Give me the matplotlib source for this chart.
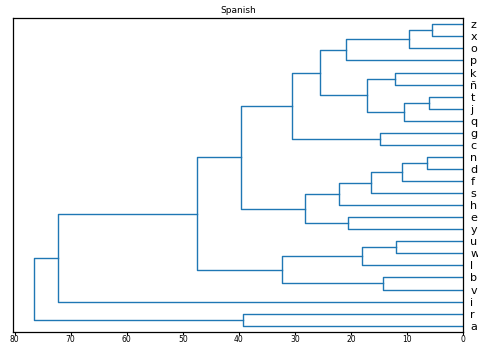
import matplotlib
matplotlib.use('Agg')
import matplotlib.pyplot as plt

# leaf labels in display order, bottom to top
labels = ['a', 'r', 'i', 'v', 'b', 'l', 'w', 'u', 'y', 'e', 'h', 's', 'f',
          'd', 'n', 'c', 'g', 'q', 'j', 't', 'ñ', 'k', 'p', 'o', 'x', 'z']

# merges: ids < 26 are leaves, ids >= 26 are earlier merges (26 + row)
left_child = [24, 26, 27, 21, 19, 30, 29, 28, 16, 33, 14, 36, 37, 38,
              9, 39, 35, 7, 43, 4, 44, 42, 47, 1, 48]
right_child = [25, 23, 22, 20, 18, 17, 31, 32, 15, 34, 13, 12, 11, 10,
               8, 40, 41, 6, 5, 3, 45, 46, 2, 0, 49]
dist = [5.6, 9.6, 20.9, 12.25, 6.2, 10.5, 17.2, 25.6, 14.8, 30.5, 6.4, 10.9,
        16.5, 22.1, 20.6, 28.2, 39.7, 12.0, 18.1, 14.4, 32.4, 47.4, 72.2,
        39.2, 76.5]

n = len(labels)
ypos = {i: 5 + 10 * i for i in range(n)}
hgt = {i: 0.0 for i in range(n)}

fig = plt.figure(figsize=(4.78, 3.44), dpi=100)
ax = fig.add_axes([12.7 / 478, (344 - 331.7) / 344, 450.6 / 478, 313.4 / 344])

color = '#1f77b4'
for k, (a, b, d) in enumerate(zip(left_child, right_child, dist)):
    ya, yb = ypos[a], ypos[b]
    ax.plot([hgt[a], d, d, hgt[b]], [ya, ya, yb, yb], color=color, lw=1.0)
    ypos[n + k] = (ya + yb) / 2
    hgt[n + k] = d

ax.set_xlim(max(dist) * 1.05, 0)
ax.set_ylim(0, 10 * n)

ax.yaxis.set_ticks_position('right')
ax.set_yticks([5 + 10 * i for i in range(n)])
ax.set_yticklabels(labels, fontsize=8)
for line in ax.get_yticklines():
    line.set_visible(False)
ax.tick_params(axis='y', pad=1.5)
ax.tick_params(axis='x', labelsize=5.5, length=1.8, pad=0.6)

ax.set_title('Spanish', fontsize=6.5, pad=4)

for s in ax.spines.values():
    s.set_linewidth(0.9)

fig.savefig('out.png', dpi=100)
